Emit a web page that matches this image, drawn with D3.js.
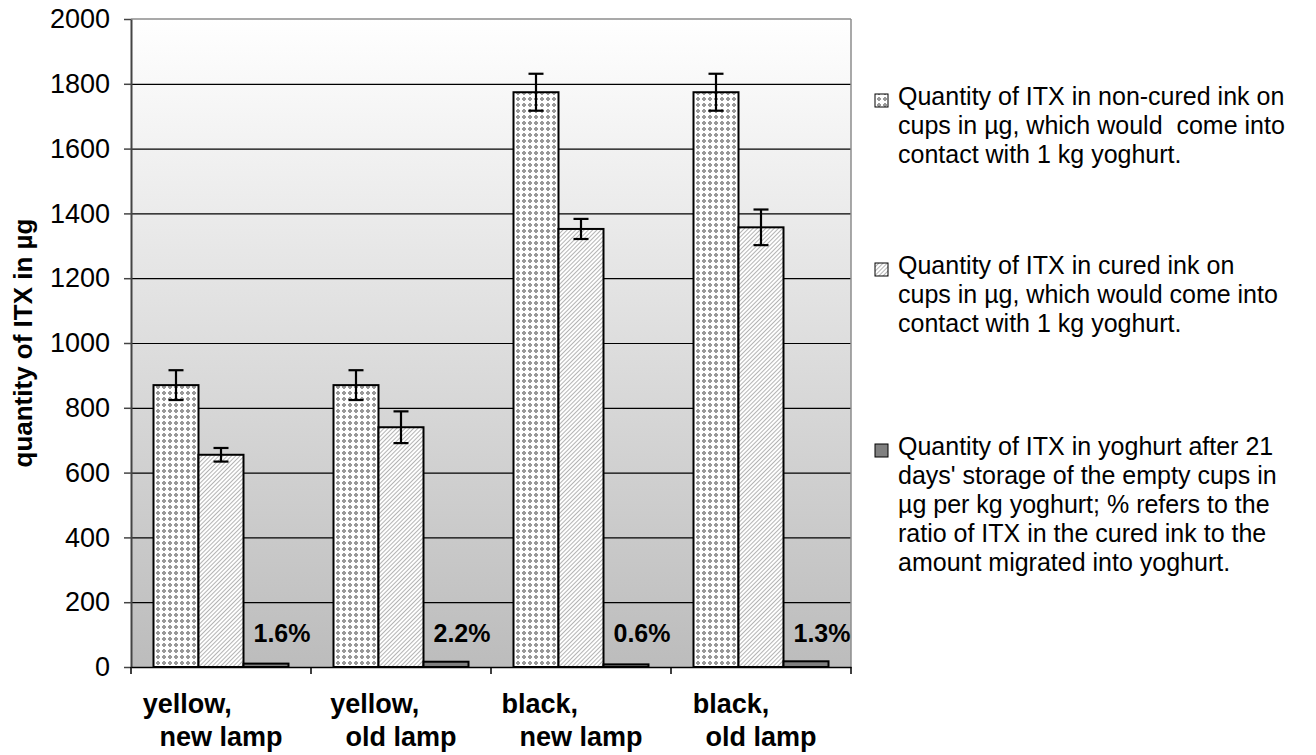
<!DOCTYPE html>
<html>
<head>
<meta charset="utf-8">
<script src="https://cdn.jsdelivr.net/npm/d3@7"></script>
<style>
  html, body { margin: 0; padding: 0; background: #fff; }
  svg { display: block; font-family: "Liberation Sans", Arial, sans-serif; }
  text { white-space: pre; }
</style>
</head>
<body>
<svg id="chart" width="1316" height="755"></svg>
<script>
// ---------- data ----------
const categoryLine1 = ["yellow,         ", "yellow,       ", "black,           ", "black,        "];
const categoryLine2 = ["new lamp", "old lamp", "new lamp", "old lamp"];
const nonCured    = [870, 870, 1774, 1774];
const nonCuredErr = [46, 46, 57, 57];
const cured       = [655, 740, 1352, 1357];
const curedErr    = [21, 49, 31, 55];
const migrated    = [10.5, 16.3, 8.1, 17.6];
const migratedLabels = ["1.6%", "2.2%", "0.6%", "1.3%"];
const yTicks = [0, 200, 400, 600, 800, 1000, 1200, 1400, 1600, 1800, 2000];
const yTitle = "quantity of ITX in µg";
const legendNonCured = ["Quantity of ITX in non-cured ink on", "cups in µg, which would  come into", "contact with 1 kg yoghurt."];
const legendCured = ["Quantity of ITX in cured ink on", "cups in µg, which would come into", "contact with 1 kg yoghurt."];
const legendMigrated = ["Quantity of ITX in yoghurt after 21", "days' storage of the empty cups in", "µg per kg yoghurt; % refers to the", "ratio of ITX in the cured ink to the", "amount migrated into yoghurt."];

// ---------- layout ----------
const svg = d3.select("#chart");
const plot = { left: 131, top: 19, right: 851, bottom: 667 };
const W = plot.right - plot.left, H = plot.bottom - plot.top;

const x0 = d3.scaleBand().domain(d3.range(categoryLine2.length)).range([plot.left, plot.right]).paddingInner(0).paddingOuter(0);
const x1 = d3.scaleBand().domain([0, 1, 2]).range([0, x0.bandwidth()]).paddingInner(0).paddingOuter(0.5);
const y = d3.scaleLinear().domain([0, 2000]).range([plot.bottom, plot.top]);

// ---------- defs ----------
const defs = svg.append("defs");
const grad = defs.append("linearGradient").attr("id", "bg").attr("x1", 0).attr("y1", 0).attr("x2", 0).attr("y2", 1);
grad.append("stop").attr("offset", "0%").attr("stop-color", "#ffffff");
grad.append("stop").attr("offset", "100%").attr("stop-color", "#bcbcbc");

const p1 = defs.append("pattern").attr("id", "plus").attr("width", 6).attr("height", 6).attr("patternUnits", "userSpaceOnUse");
p1.append("rect").attr("width", 6).attr("height", 6).attr("fill", "#ffffff");
p1.append("rect").attr("x", 2).attr("y", 1).attr("width", 2).attr("height", 4).attr("fill", "#999999");
p1.append("rect").attr("x", 1).attr("y", 2).attr("width", 4).attr("height", 2).attr("fill", "#999999");

const p2 = defs.append("pattern").attr("id", "diag").attr("width", 3).attr("height", 3).attr("patternUnits", "userSpaceOnUse").attr("patternTransform", "rotate(45)");
p2.append("rect").attr("width", 3).attr("height", 3).attr("fill", "#ffffff");
p2.append("rect").attr("width", 1).attr("height", 3).attr("fill", "#b4b4b4");

const fills = ["url(#plus)", "url(#diag)", "#808080"];

// ---------- background ----------
svg.append("rect").attr("x", plot.left).attr("y", plot.top).attr("width", W).attr("height", H).attr("fill", "url(#bg)");

// gridlines
svg.append("g")
  .attr("transform", `translate(${plot.left},0)`)
  .call(d3.axisLeft(y).tickValues(yTicks.filter(v => v > 0 && v < 2000)).tickSize(-W).tickFormat(""))
  .call(g => g.select(".domain").remove())
  .call(g => g.selectAll("line").attr("stroke", "#000").attr("stroke-width", 1.2));

// top & right border
svg.append("line").attr("x1", plot.left).attr("x2", plot.right).attr("y1", plot.top).attr("y2", plot.top).attr("stroke", "#8c8c8c").attr("stroke-width", 1.5);
svg.append("line").attr("x1", plot.right).attr("x2", plot.right).attr("y1", plot.top).attr("y2", plot.bottom).attr("stroke", "#8c8c8c").attr("stroke-width", 1.5);

// ---------- bars ----------
const series = [nonCured, cured, migrated];
const errs = [nonCuredErr, curedErr, null];
const groups = svg.append("g").selectAll("g").data(d3.range(categoryLine2.length)).join("g")
  .attr("transform", i => `translate(${x0(i)},0)`);

series.forEach((s, si) => {
  groups.append("rect")
    .attr("x", x1(si))
    .attr("y", i => y(s[i]))
    .attr("width", x1.bandwidth())
    .attr("height", i => y(0) - y(s[i]))
    .attr("fill", fills[si])
    .attr("stroke", "#000")
    .attr("stroke-width", 2);
});

// error bars
series.forEach((s, si) => {
  if (!errs[si]) return;
  const e = errs[si];
  const cx = x1(si) + x1.bandwidth() / 2;
  const g = groups.append("g").attr("stroke", "#000").attr("stroke-width", 2.2);
  g.append("line").attr("x1", cx).attr("x2", cx).attr("y1", i => y(s[i] + e[i])).attr("y2", i => y(s[i] - e[i]));
  g.append("line").attr("x1", cx - 7.5).attr("x2", cx + 7.5).attr("y1", i => y(s[i] + e[i])).attr("y2", i => y(s[i] + e[i]));
  g.append("line").attr("x1", cx - 7.5).attr("x2", cx + 7.5).attr("y1", i => y(s[i] - e[i])).attr("y2", i => y(s[i] - e[i]));
});

// percentage labels
groups.append("text")
  .attr("x", x1(2) + 10)
  .attr("y", y(78))
  .attr("font-size", 25)
  .attr("font-weight", "bold")
  .attr("fill", "#000")
  .text(i => migratedLabels[i]);

// ---------- axes ----------
const yAxis = svg.append("g")
  .attr("transform", `translate(${plot.left},0)`)
  .call(d3.axisLeft(y).tickValues(yTicks).tickFormat(d3.format("d")).tickSize(7).tickPadding(14).tickSizeOuter(0));
yAxis.select(".domain").attr("stroke", "#444").attr("stroke-width", 2);
yAxis.selectAll(".tick line").attr("stroke", "#444").attr("stroke-width", 1.5);
yAxis.selectAll(".tick text").attr("font-size", 27).attr("fill", "#000").attr("font-family", "Liberation Sans, Arial, sans-serif");

const xAxis = svg.append("g")
  .attr("transform", `translate(0,${plot.bottom})`)
  .call(d3.axisBottom(x0).tickValues([]).tickSizeOuter(0));
xAxis.select(".domain").attr("stroke", "#000").attr("stroke-width", 1.5);
// category boundary ticks
const boundaries = d3.range(categoryLine2.length + 1);
xAxis.selectAll(".btick").data(boundaries).join("line")
  .attr("x1", i => i < categoryLine2.length ? x0(i) : x0.range()[1])
  .attr("x2", i => i < categoryLine2.length ? x0(i) : x0.range()[1])
  .attr("y1", 0).attr("y2", 7)
  .attr("stroke", "#000").attr("stroke-width", 1.5);

// category labels
const catLabels = svg.append("g").selectAll("text").data(d3.range(categoryLine2.length)).join("text")
  .attr("font-size", 27).attr("font-weight", "bold").attr("text-anchor", "middle").attr("fill", "#000");
catLabels.append("tspan").attr("x", i => x0(i) + x0.bandwidth() / 2).attr("y", plot.bottom + 46).text(i => categoryLine1[i]);
catLabels.append("tspan").attr("x", i => x0(i) + x0.bandwidth() / 2).attr("y", plot.bottom + 79).text(i => categoryLine2[i]);

// y title
svg.append("text")
  .attr("transform", `translate(32,${(plot.top + plot.bottom) / 2}) rotate(-90)`)
  .attr("text-anchor", "middle")
  .attr("font-size", 26).attr("font-weight", "bold").attr("fill", "#000")
  .text(yTitle);

// ---------- legend ----------
const legendItems = [
  { lines: legendNonCured, fill: fills[0], top: 105 },
  { lines: legendCured, fill: fills[1], top: 274 },
  { lines: legendMigrated, fill: fills[2], top: 455 }
];
const lg = svg.append("g");
legendItems.forEach(it => {
  lg.append("rect").attr("x", 875).attr("y", it.top - 11).attr("width", 13).attr("height", 13)
    .attr("fill", it.fill).attr("stroke", "#000").attr("stroke-width", 1);
  const t = lg.append("text").attr("font-size", 25).attr("fill", "#000");
  it.lines.forEach((ln, k) => {
    t.append("tspan").attr("x", 898).attr("y", it.top + k * 29).text(ln);
  });
});
</script>
</body>
</html>
